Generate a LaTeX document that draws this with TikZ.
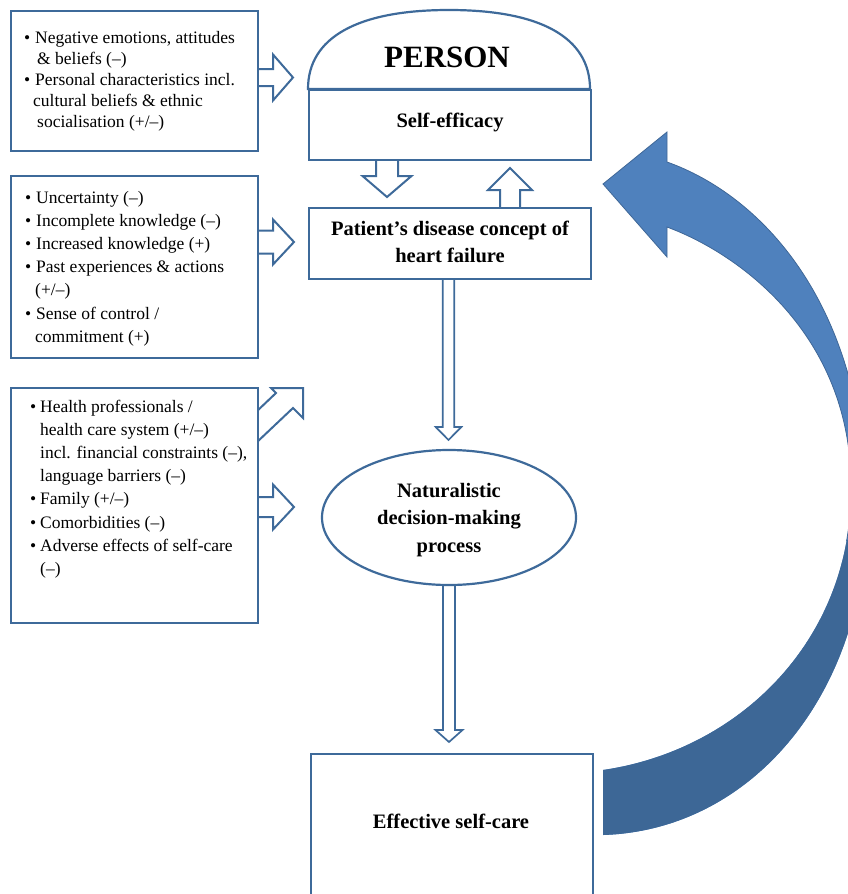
\documentclass[tikz,border=0pt]{standalone}
\usepackage{fontspec}
\setmainfont{Liberation Serif}
\usetikzlibrary{shapes.geometric}
\definecolor{boxblue}{HTML}{3E6A9A}
\definecolor{arrlight}{HTML}{4F81BD}
\definecolor{arrdark}{HTML}{3D6796}
\newcommand\bul{\makebox[11pt][l]{•}}
\newcommand\bulb{\makebox[10pt][l]{•}}
% #1 extra style, #2 start coordinate, #3 angle, #4 half shaft, #5 shaft length, #6 half head, #7 head length
\newcommand\hollowarrow[7][]{%
  \begin{scope}[shift={(#2)}, rotate=#3]
    \draw[hollow,#1] (0,#4) -- (#5,#4) -- (#5,#6) -- ({#5+#7},0) -- (#5,-#6) -- (#5,-#4) -- (0,-#4);
  \end{scope}}
\tikzset{
  box/.style={draw=boxblue, line width=2.2pt, fill=white, rectangle, inner sep=0pt},
  hollow/.style={draw=boxblue, line width=2pt, fill=white, line join=miter},
  smalltxt/.style={font=\fontsize{17.5}{23.2}\selectfont, inner sep=0pt, anchor=base west},
  boldtxt/.style={font=\fontsize{20.5}{27}\selectfont\bfseries, inner sep=0pt, anchor=base},
}
\def\bigarrow{(603,-184) -- (667,-132) -- (667,-162)
  .. controls (760,-195) and (860,-300) .. (866,-495)
  .. controls (874,-680) and (760,-830) .. (603,-835)
  -- (603,-770)
  .. controls (740,-750) and (851,-640) .. (851,-490)
  .. controls (853,-340) and (745,-256) .. (667,-227)
  -- (667,-257) -- cycle}
\begin{document}
\begin{tikzpicture}[x=1pt,y=1pt]
\useasboundingbox (0,0) rectangle (848,-894);
\begin{scope}
\clip (0,0) rectangle (848,-894);

% big curved feedback arrow
\fill[arrlight] \bigarrow;
\begin{scope}
  \clip (500,0) rectangle (900,-540);
  \draw[arrlight!80!black, line width=0.8pt] \bigarrow;
\end{scope}
\begin{scope}
  \clip (500,-540) rectangle (900,-900);
  \fill[arrdark] \bigarrow;
\end{scope}

% hollow block arrows
\coordinate (a1s) at (257,-77.5);
\coordinate (a2s) at (257,-242);
\coordinate (a3s) at (257,-507);
\coordinate (a4s) at (256,-412);
\coordinate (a5s) at (387,-159);
\coordinate (a6s) at (510,-207);
\coordinate (a7s) at (448.5,-278);
\coordinate (a8s) at (449,-585);
\hollowarrow{a1s}{0}{8.5}{16}{23}{20}
\hollowarrow{a2s}{0}{11.5}{16}{22.5}{21}
\hollowarrow{a3s}{0}{10}{16}{22.5}{21}
\draw[hollow] (a4s) -- ++(20,19) -- ++(-5,5) -- ++(32,0) -- ++(0,-30) -- ++(-10,10) -- ++(-37,-35);
\hollowarrow{a5s}{-90}{11}{17}{24.5}{21}
\hollowarrow{a6s}{90}{10}{17}{22}{22}
\hollowarrow[line width=1.7pt]{a7s}{-90}{5.7}{149}{12.8}{13}
\hollowarrow[line width=1.7pt]{a8s}{-90}{6}{145}{13.5}{12}

% boxes
\node[box, minimum width=247pt, minimum height=140pt, anchor=north west] (b1) at (10,-10) {};
\node[box, minimum width=247pt, minimum height=182pt, anchor=north west] (b2) at (10,-175) {};
\node[box, minimum width=247pt, minimum height=235pt, anchor=north west] (b3) at (10,-387) {};
\draw[draw=boxblue, line width=2.2pt, fill=white] (308,-89) .. controls (308,-37.6) and (357.3,-10) .. (449,-10)
  .. controls (540.7,-10) and (590,-37.6) .. (590,-89) -- cycle;
\node[box, minimum width=282pt, minimum height=70pt, anchor=north west] (se) at (308,-89) {};
\node[box, minimum width=282pt, minimum height=71pt, anchor=north west] (pat) at (308,-207) {};
\node[draw=boxblue, line width=2.2pt, fill=white, ellipse, minimum width=254pt, minimum height=135pt, inner sep=0pt] (nat) at (449,-517.5) {};
\node[box, minimum width=282pt, minimum height=160pt, anchor=north west] (eff) at (310,-753) {};

% texts
\node[smalltxt, font=\fontsize{17.5}{21}\selectfont] (t1) at (24,-43) {\begin{tabular}[t]{@{}l@{}}
\bul Negative emotions, attitudes\\
\hspace*{13pt}\& beliefs (--)\\
\bul Personal characteristics incl.\\
\hspace*{9pt}cultural beliefs \& ethnic\\
\hspace*{13pt}socialisation (+/--)
\end{tabular}};
\node[smalltxt] (t2) at (25,-203) {\begin{tabular}[t]{@{}l@{}}
\bul Uncertainty (--)\\
\bul Incomplete knowledge (--)\\
\bul Increased knowledge (+)\\
\bul Past experiences \& actions\\
\hspace*{10pt}(+/--)\\
\bul Sense of control /\\
\hspace*{10pt}commitment (+)
\end{tabular}};
\node[smalltxt] (t3) at (30,-412) {\begin{tabular}[t]{@{}l@{}}
\bulb Health professionals /\\
\hspace*{10pt}health care system (+/--)\\
\hspace*{10pt}incl. financial constraints (--),\\
\hspace*{10pt}language barriers (--)\\
\bulb Family (+/--)\\
\bulb Comorbidities (--)\\
\bulb Adverse effects of self-care\\
\hspace*{10pt}(--)
\end{tabular}};

\node[boldtxt, font=\fontsize{31}{37}\selectfont\bfseries] (persont) at (447,-67) {PERSON};
\node[boldtxt] (set) at (450,-127) {Self-efficacy};
\node[boldtxt] (patt) at (450,-235) {\begin{tabular}[t]{@{}c@{}}Patient's disease concept of\\heart failure\end{tabular}};
\node[boldtxt, font=\fontsize{20.5}{27.5}\selectfont\bfseries] (natt) at (449,-497) {\begin{tabular}[t]{@{}c@{}}Naturalistic\\decision-making\\process\end{tabular}};
\node[boldtxt] (efft) at (451,-828) {Effective self-care};
\end{scope}
\end{tikzpicture}
\end{document}
